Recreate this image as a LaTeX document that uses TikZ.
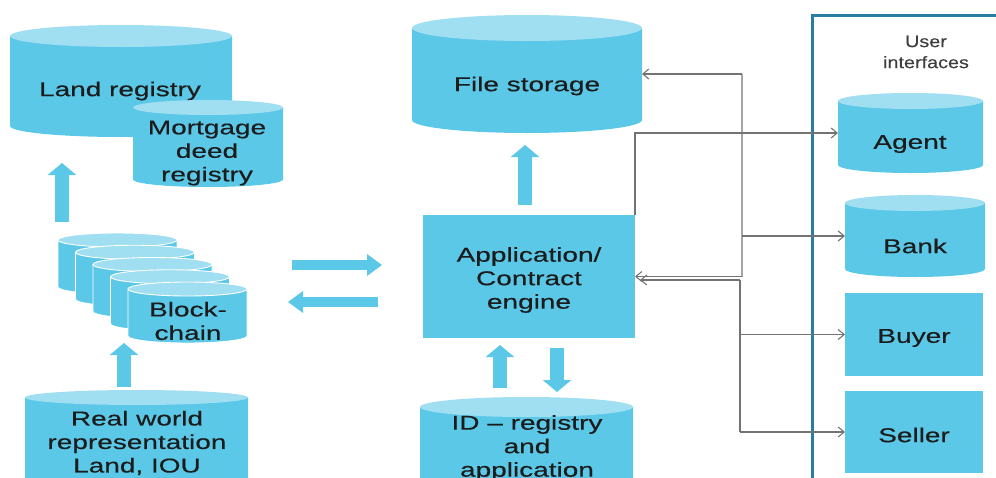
\documentclass[tikz,border=0pt]{standalone}
\usepackage{fontspec}
\setmainfont[FakeStretch=1.4,FakeBold=0.4]{Liberation Sans}
\newfontfamily\hdrfont[FakeStretch=1.2,FakeBold=0.3]{Liberation Sans}
\usetikzlibrary{arrows.meta}
\definecolor{cylblue}{RGB}{91,200,232}
\definecolor{cyllight}{RGB}{160,222,241}
\definecolor{framecol}{RGB}{40,125,160}
\definecolor{conngray}{RGB}{115,115,115}
\definecolor{busgray}{RGB}{165,165,165}
\definecolor{txt}{RGB}{28,28,28}
\tikzset{
  lbl/.style={font=\fontsize{20}{23.5}\selectfont, text=txt, align=center, inner sep=0pt},
  hdr/.style={font=\hdrfont\fontsize{16.5}{21}\selectfont, text=txt!85, align=center, inner sep=0pt},
  conn/.style={draw=conngray, line width=1.1pt},
  busline/.style={draw=busgray, line width=2.2pt},
  tip/.style={-{Straight Barb[length=6pt,width=10pt]}},
  bigh/.style={draw=cylblue, line width=10pt, -{Triangle[length=15pt,width=21pt]}},
  bigv/.style={draw=cylblue, line width=14pt, -{Triangle[length=12pt,width=28pt]}},
  cylbody/.style={fill=cylblue},
  cyltop/.style={fill=cyllight},
  stackedge/.style={draw=white, line width=0.9pt},
  shapebox/.style={inner sep=0pt, outer sep=0pt, draw=none, rectangle},
  rectbox/.style={fill=cylblue, inner sep=0pt, outer sep=0pt, draw=none, rectangle},
}
\newcommand\cyl[7][]{%
  \pgfmathsetmacro\cylcx{(#3+#4)/2}%
  \pgfmathsetmacro\cylrx{(#4-#3)/2}%
  \pgfmathsetmacro\cylw{#4-#3}%
  \pgfmathsetmacro\cylh{#6-#5}%
  \pgfmathsetmacro\cylcy{(#5+#6)/2}%
  \path[cylbody,#1] (#3,#5+#7) -- (#3,#6-#7) arc[start angle=180,end angle=0,x radius=\cylrx,y radius=#7] -- (#4,#5+#7) -- cycle;
  \path[cyltop,#1] (\cylcx,#5+#7) ellipse[x radius=\cylrx,y radius=#7];
  \node[shapebox,minimum width=\cylw pt,minimum height=\cylh pt] (#2) at (\cylcx,\cylcy) {};
}
\begin{document}
\begin{tikzpicture}[x=1pt,y=-1pt]
\useasboundingbox (0,0) rectangle (996,477);
\clip (0,0) rectangle (996,477);

% left column
\cyl{land}{10}{232}{25}{137}{11}
\node[lbl] (landT) at (120,91) {Land registry};
\cyl{mortgage}{133}{283}{100}{187}{7.5}
\node[lbl] (mortgageT) at (207,153) {Mortgage\\deed\\registry};

\cyl[stackedge]{bc1}{58}{177}{233}{294}{7}
\cyl[stackedge]{bc2}{75.5}{194.5}{245.25}{306.25}{7}
\cyl[stackedge]{bc3}{93}{212}{257.5}{318.5}{7}
\cyl[stackedge]{bc4}{110.5}{229.5}{269.75}{330.75}{7}
\cyl[stackedge]{blockchain}{128}{247}{282}{343}{7}
\node[lbl] (blockchainT) at (188,321) {Block-\\chain};

\cyl{realworld}{25}{248}{390}{520}{7.5}
\node[lbl] (realworldT) at (137,443) {Real world\\representation\\Land, IOU};

% thick arrows
\coordinate (la1) at (62,222); \coordinate (la2) at (62,163);
\draw[bigv] (la1) -- (la2);
\coordinate (ba1) at (124,387); \coordinate (ba2) at (124,343);
\draw[bigv] (ba1) -- (ba2);
\coordinate (ha1) at (292,265); \coordinate (ha2) at (382,265);
\draw[bigh] (ha1) -- (ha2);
\coordinate (hb1) at (378,302); \coordinate (hb2) at (288,302);
\draw[bigh] (hb1) -- (hb2);

% middle column
\cyl{filestore}{412}{642}{15}{133}{13}
\node[lbl] (filestoreT) at (527,86) {File storage};
\coordinate (fa1) at (525,205); \coordinate (fa2) at (525,145);
\draw[bigv] (fa1) -- (fa2);

\node[rectbox, minimum width=212pt, minimum height=123pt] (app) at (529,276.5) {};
\node[lbl] (appT) at (529,280) {Application/\\Contract\\engine};

\coordinate (ia1) at (500,388); \coordinate (ia2) at (500,345);
\draw[bigv] (ia1) -- (ia2);
\coordinate (id1) at (557,348); \coordinate (id2) at (557,392);
\draw[bigv] (id1) -- (id2);

\cyl{idreg}{420}{633}{397}{520}{10}
\node[lbl] (idregT) at (527,448) {ID -- registry\\and\\application};

% user interfaces panel
\draw[framecol, line width=3pt] (812,500) -- (812,15) -- (1000,15);
\node[hdr] (uititle) at (926,52) {User\\interfaces};
\cyl{agent}{838}{983}{93}{173}{8}
\node[lbl] (agentT) at (910,144) {Agent};
\cyl{bank}{845}{985}{195}{277}{8}
\node[lbl] (bankT) at (915,246) {Bank};
\node[rectbox, minimum width=138pt, minimum height=83pt] (buyer) at (914,334.5) {};
\node[lbl] (buyerT) at (914,338) {Buyer};
\node[rectbox, minimum width=138pt, minimum height=82pt] (seller) at (914,432) {};
\node[lbl] (sellerT) at (914,435) {Seller};

% connectors
\coordinate (busTop) at (filestore.east -| 742,0);
\coordinate (busMid) at (app.east -| 742,0);
\coordinate (busMid2) at (740,280);
\coordinate (busBot) at (seller.west -| 740,0);
\draw[busline] (busTop) -- (busMid);
\draw[conn] (busMid2) -- (busBot);
\draw[conn,tip] (busTop) -- (filestore.east);
\draw[conn,tip] (app.north east) |- (agent.west);
\draw[conn,tip] (bank.west -| busTop) -- (bank.west);
\draw[conn,tip] (busMid) -- (app.east);
\draw[conn,tip] (busMid2) -- ([xshift=5pt]app.east |- busMid2);
\draw[conn,tip] (buyer.west -| busBot) -- (buyer.west);
\draw[conn,tip] (busBot) -- (seller.west);
\end{tikzpicture}
\end{document}
